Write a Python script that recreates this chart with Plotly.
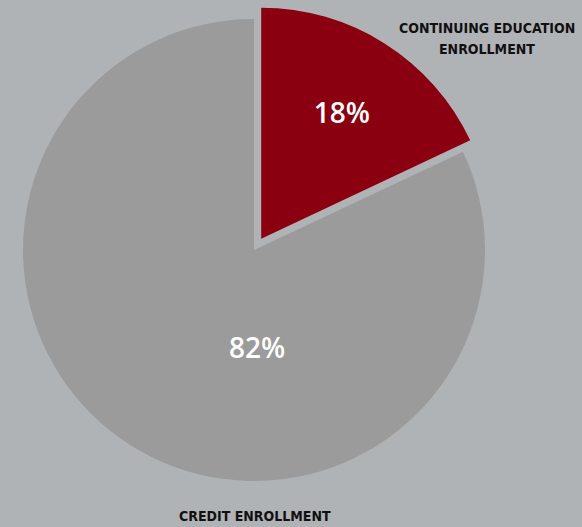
import plotly.graph_objects as go

labels = ["Continuing Education Enrollment", "Credit Enrollment"]
values = [18, 82]
colors = ["#8a0010", "#9b9b9b"]
pulls = [0.058, 0]

W, H = 582, 527
cx, cy, r = 254, 250, 231
box = r * 2 * (1 + max(pulls))

total = sum(values)
pct = [f"{round(v / total * 100)}%" for v in values]

fig = go.Figure(go.Pie(
    labels=labels, values=values, sort=False, direction="clockwise", rotation=0,
    pull=pulls, marker=dict(colors=colors, line=dict(width=0)),
    text=[pct[0], ""], textinfo="text", textposition="inside",
    insidetextorientation="horizontal",
    textfont=dict(family="Open Sans", size=28, color="white", weight=600),
    showlegend=False, hoverinfo="label+percent",
    domain=dict(x=[(cx - box/2)/W, (cx + box/2)/W],
                y=[(H - cy - box/2)/H, (H - cy + box/2)/H]),
))

fig.add_annotation(x=257/W, y=1 - 347/H, xref="paper", yref="paper",
                   text=pct[1], showarrow=False,
                   font=dict(family="Open Sans", size=28, color="white", weight=600),
                   xanchor="center", yanchor="middle")

lab_font = dict(family="Liberation Sans Narrow, DejaVu Sans Condensed", size=14, color="#111111")
for txt, yy in [("CONTINUING EDUCATION", 28), ("ENROLLMENT", 49)]:
    fig.add_annotation(x=487/W, y=1 - yy/H, xref="paper", yref="paper",
                       text=f"<b>{txt}</b>", showarrow=False,
                       font=lab_font, align="center", xanchor="center", yanchor="middle")
fig.add_annotation(x=255/W, y=1 - 516/H, xref="paper", yref="paper",
                   text="<b>CREDIT ENROLLMENT</b>", showarrow=False,
                   font=lab_font, align="center", xanchor="center", yanchor="middle")

fig.update_layout(width=W, height=H, margin=dict(l=0, r=0, t=0, b=0),
                  paper_bgcolor="#b0b3b6", plot_bgcolor="#b0b3b6")
fig.write_html("out.html", config={"displayModeBar": False},
               post_script="document.body.style.margin='0';document.body.style.overflow='hidden';")
